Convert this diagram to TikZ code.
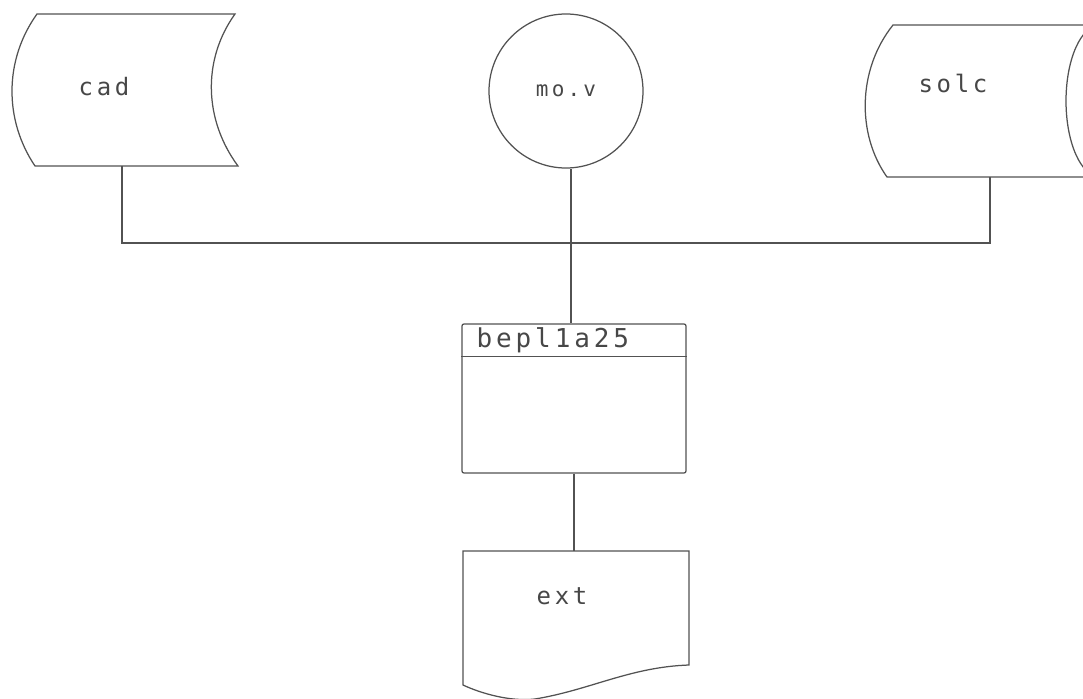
\documentclass[tikz,border=0pt]{standalone}
\usepackage{fontspec}
\newfontfamily\plotfont[LetterSpace=15]{DejaVu Sans Mono}
\begin{document}
\begin{tikzpicture}[x=1pt,y=-1pt,
  ln/.style={draw=black!68, line width=1.25pt},
  lbl/.style={text=black!72, inner sep=0pt},
  lblm/.style={lbl, font=\plotfont\fontsize{24}{24}\selectfont},
  anchorbox/.style={inner sep=0pt, outer sep=0pt},
]
\useasboundingbox (0,0) rectangle (1083,698);
\clip (0,0) rectangle (1083,698);

% ---- cad (stored data) ----
\node[anchorbox, minimum width=200pt, minimum height=152pt] (cad) at (122,90) {};
\draw[ln] (37,14) -- (235,14) .. controls (202,60) and (204,120) .. (238,166)
  -- (35,166) .. controls (4,120) and (4,60) .. (37,14) -- cycle;
\node[lblm] (cadt) at (104,87) {cad};

% ---- mo.v (circle) ----
\node[circle, ln, minimum size=154pt, inner sep=0pt, text=black!72,
      font=\plotfont\fontsize{21}{21}\selectfont] (mov) at (566,91) {mo.v};

% ---- solc (drum) ----
\node[anchorbox, minimum width=200pt, minimum height=152pt] (solc) at (990,101) {};
\draw[ln] (1120,25) -- (893,25) .. controls (857,70) and (857,135) .. (887,177) -- (1120,177);
\draw[ln] (1100,101) ellipse [x radius=34pt, y radius=76pt];
\node[lblm] (solct) at (953,83) {solc};

% ---- bus ----
\coordinate (bus) at (571,243);
\draw[ln] (cad.south) -- (cad.south |- bus) -- (solc.south |- bus) -- (solc.south);
\draw[ln] (mov.south -| bus) -- (bus);

% ---- bepl1a25 (process box) ----
\node[ln, rounded corners=2pt, minimum width=224pt, minimum height=149pt, inner sep=0pt] (box) at (574,398.5) {};
\draw[ln] ([yshift=-33pt]box.north west) -- ([yshift=-33pt]box.north east);
\node[lbl, anchor=base west, font=\plotfont\fontsize{26}{26}\selectfont] (boxt)
  at ([xshift=15pt,yshift=-24pt]box.north west) {bepl1a25};
\draw[ln] (bus) -- (box.north -| bus);

% ---- ext (document) ----
\node[anchorbox, minimum width=226pt, minimum height=148pt] (ext) at (576,625) {};
\draw[ln] (463,551) -- (689,551) -- (689,665)
  .. controls (630,667) and (590,690) .. (535,699)
  .. controls (510,702) and (480,693) .. (463,685) -- cycle;
\node[lblm] (extt) at (562,596) {ext};
\draw[ln] (box.south) -- (ext.north -| box.south);
\end{tikzpicture}
\end{document}
